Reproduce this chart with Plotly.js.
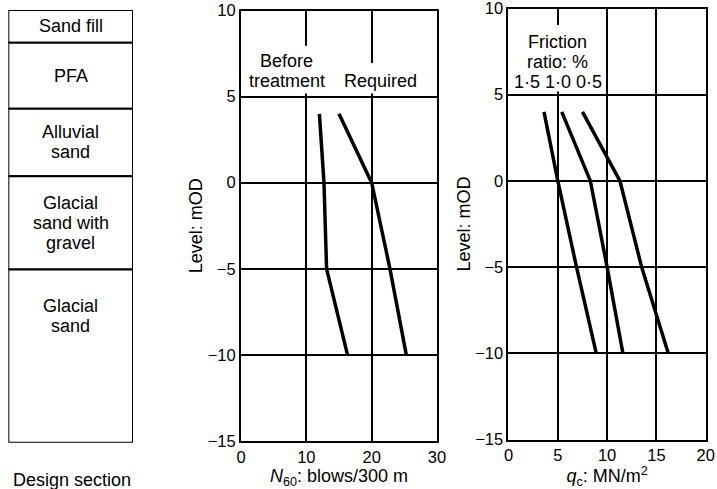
<!DOCTYPE html>
<html>
<head>
<meta charset="utf-8">
<script src="https://cdn.plot.ly/plotly-3.0.1.min.js"></script>
<style>html,body{margin:0;padding:0;background:#fff;}#chart{width:717px;height:489px;}</style>
</head>
<body>
<div id="chart"></div>
<script>
// ---- Data ----
// Design section layers (levels in mOD)
var layerNames = ['Sand fill', 'PFA', 'Alluvial<br>sand', 'Glacial<br>sand with<br>gravel', 'Glacial<br>sand'];
var layerTops = [10, 8.1, 4.3, 0.4, -5];
var layerBottoms = [8.1, 4.3, 0.4, -5, -15];

// SPT N60 profiles
var beforeN = [12, 12.7, 13.1, 16.3];
var beforeLevel = [4, 0, -5, -10];
var requiredN = [15, 20, 22.8, 25.3];
var requiredLevel = [4, 0, -5, -10];

// CPT qc profiles for friction ratios
var fr15Qc = [3.6, 5.0, 6.9, 8.9];
var fr15Level = [4, 0, -5, -10];
var fr10Qc = [5.4, 8.3, 10.0, 11.6];
var fr10Level = [4, 0, -5, -10];
var fr05Qc = [7.5, 11.3, 13.5, 16.2];
var fr05Level = [4, 0, -5, -10];

// Tick values
var levelTicks = [-15, -10, -5, 0, 5, 10];
var nTicks = [0, 10, 20, 30];
var qcTicks = [0, 5, 10, 15, 20];

// ---- Styles ----
var FONT = 'Liberation Sans, Arial, sans-serif';
var lineStyle = {color: '#000', width: 3.5};
var LINE_GAP = 20;

var thickness = layerTops.map(function (t, i) { return t - layerBottoms[i]; });

var traces = [
  {type: 'bar', x: layerNames.map(function () { return 0; }), y: thickness, base: layerBottoms,
   width: 1, xaxis: 'x3', yaxis: 'y3',
   marker: {color: '#fff', line: {color: '#000', width: 2}}, hoverinfo: 'skip', showlegend: false},
  {type: 'scatter', mode: 'lines', x: beforeN, y: beforeLevel, xaxis: 'x', yaxis: 'y', line: lineStyle, name: 'Before treatment', showlegend: false},
  {type: 'scatter', mode: 'lines', x: requiredN, y: requiredLevel, xaxis: 'x', yaxis: 'y', line: lineStyle, name: 'Required', showlegend: false},
  {type: 'scatter', mode: 'lines', x: fr15Qc, y: fr15Level, xaxis: 'x2', yaxis: 'y2', line: lineStyle, name: '1·5', showlegend: false},
  {type: 'scatter', mode: 'lines', x: fr10Qc, y: fr10Level, xaxis: 'x2', yaxis: 'y2', line: lineStyle, name: '1·0', showlegend: false},
  {type: 'scatter', mode: 'lines', x: fr05Qc, y: fr05Level, xaxis: 'x2', yaxis: 'y2', line: lineStyle, name: '0·5', showlegend: false}
];

function gridAxis(extra) {
  var a = {
    showline: true, mirror: true, linecolor: '#000', linewidth: 2,
    showgrid: true, gridcolor: '#000', gridwidth: 2,
    zeroline: false, ticks: '', tickfont: {family: FONT, size: 16.5, color: '#000'},
    ticklabeloverflow: 'allow', fixedrange: true
  };
  for (var k in extra) a[k] = extra[k];
  return a;
}

var textFont = {family: FONT, size: 18, color: '#000'};

var annotations = [];
// multi-line label drawn line by line for tight line spacing
function addLines(xref, yref, x, y, text) {
  var lines = text.split('<br>');
  var mid = (lines.length - 1) / 2;
  lines.forEach(function (ln, i) {
    annotations.push({xref: xref, yref: yref, x: x, y: y, text: ln, showarrow: false, font: textFont,
      xanchor: 'center', yanchor: 'middle', yshift: (mid - i) * LINE_GAP});
  });
}

layerNames.forEach(function (name, i) {
  var lvl = (i === layerNames.length - 1) ? layerTops[i] - 2.7 : (layerTops[i] + layerBottoms[i]) / 2;
  addLines('x3', 'y3', 0, lvl, name);
});
annotations.push({xref: 'paper', yref: 'paper', x: 0.1, y: 0.0184, text: 'Design section', showarrow: false,
  font: textFont, xanchor: 'center', yanchor: 'middle'});
addLines('x', 'y', 7, 6.5, 'Before<br>treatment');
addLines('x', 'y', 21.4, 5.9, 'Required');
addLines('x2', 'y2', 5, 6.9, 'Friction<br>ratio: %<br>1·5 1·0 0·5');

// white masks that break the grid behind the in-plot labels
function mask(xr, yr, x0, x1, y0, y1) {
  return {type: 'rect', xref: xr, yref: yr, x0: x0, x1: x1, y0: y0, y1: y1,
    fillcolor: '#fff', line: {width: 0}, layer: 'above'};
}
var shapes = [
  mask('x', 'y', 1.1, 13.0, 5.18, 7.95),
  mask('x', 'y', 15.5, 27.4, 5.18, 6.95),
  mask('x2', 'y2', 0.5, 9.5, 5.18, 9.05)
];

var layout = {
  width: 717, height: 489,
  margin: {l: 0, r: 0, t: 0, b: 0},
  paper_bgcolor: '#fff', plot_bgcolor: '#fff',
  barmode: 'overlay',
  showlegend: false,
  xaxis: gridAxis({domain: [0.3361, 0.6095], range: [0, 30], tickvals: nTicks, anchor: 'y',
    title: {text: '<i>N</i><sub>60</sub>: blows/300 m', font: textFont, standoff: 3}}),
  yaxis: gridAxis({domain: [0.0982, 0.9785], range: [-15, 10], tickvals: levelTicks, anchor: 'x',
    title: {text: 'Level: mOD', font: textFont, standoff: 0}}),
  xaxis2: gridAxis({domain: [0.7092, 0.9843], range: [0, 20], tickvals: qcTicks, anchor: 'y2',
    title: {text: '<i>q</i><sub>c</sub>: MN/m<sup>2</sup>', font: textFont, standoff: 3}}),
  yaxis2: gridAxis({domain: [0.1012, 0.9826], range: [-15, 10], tickvals: levelTicks, anchor: 'x2',
    title: {text: 'Level: mOD', font: textFont, standoff: 0}}),
  xaxis3: {domain: [0.0116, 0.1855], range: [-0.5, 0.5], visible: false, fixedrange: true, anchor: 'y3'},
  yaxis3: {domain: [0.0947, 0.9796], range: [-15, 10], visible: false, fixedrange: true, anchor: 'x3'},
  shapes: shapes,
  annotations: annotations
};

Plotly.newPlot('chart', traces, layout, {displayModeBar: false, staticPlot: true});
</script>
</body>
</html>
